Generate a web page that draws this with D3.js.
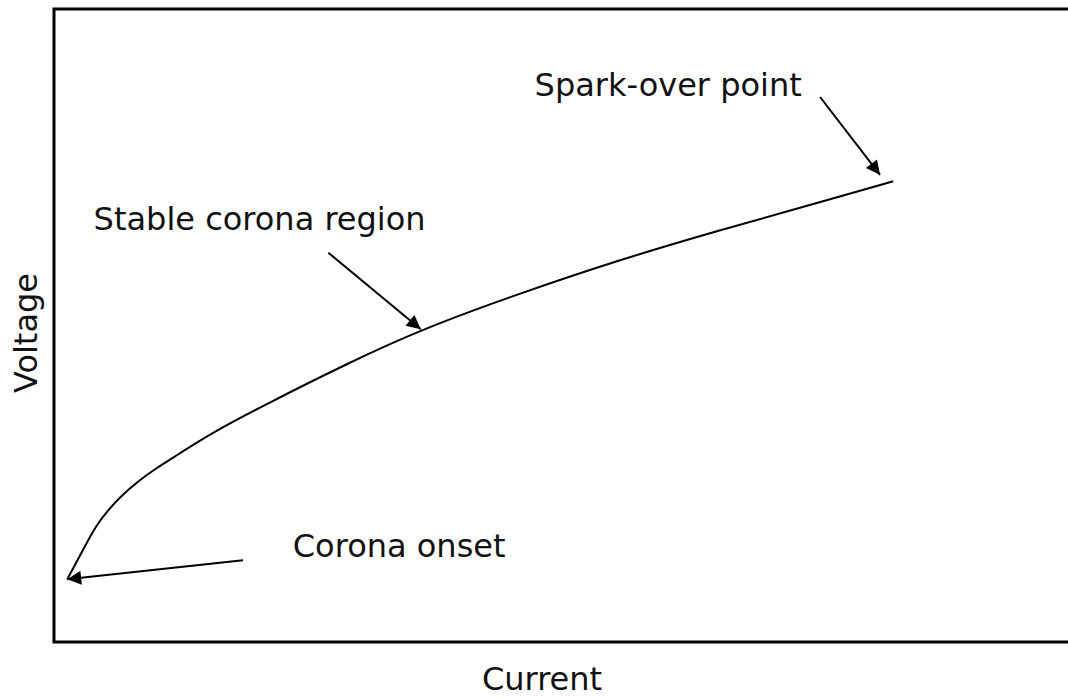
<!DOCTYPE html>
<html>
<head>
<meta charset="utf-8">
<script src="https://cdn.jsdelivr.net/npm/d3@7"></script>
<style>
  html, body { margin: 0; padding: 0; background: #fff; }
  svg { display: block; }
  text { font-family: "DejaVu Sans", Verdana, sans-serif; font-size: 32px; fill: #111; }
</style>
</head>
<body>
<svg id="chart"></svg>
<script>
// datos de la curva (unidades arbitrarias 0-100)
var current = [1.3, 2.2, 3.2, 4.2, 5.4, 6.7, 8.2, 9.9, 12.1, 15.4, 20.3, 29.1, 36.5, 45.9, 55.7, 65.6, 74.4, 82.6];
var voltage = [9.9, 12.6, 15.6, 18.5, 21.0, 23.2, 25.3, 27.3, 29.5, 32.9, 37.1, 44.2, 49.6, 55.1, 60.4, 65.1, 69.0, 72.8];

// anotaciones: texto y flechas (en unidades de datos)
var labels = ["Spark-over point", "Stable corona region", "Corona onset"];
var labelX = [47.3, 3.9, 23.5];
var labelY = [86.2, 65.1, 13.4];
var arrowFromX = [75.4, 27.0, 18.6];
var arrowFromY = [86.1, 61.5, 12.9];
var arrowToX = [81.3, 36.1, 1.3];
var arrowToY = [73.8, 49.4, 9.9];

var width = 1068,
    height = 698;

// escalas
var x = d3.scaleLinear().domain([0, 100]).range([54, 1070]);
var y = d3.scaleLinear().domain([0, 100]).range([642, 9]);

var svg = d3.select("#chart")
  .attr("width", width)
  .attr("height", height);

// punta de flecha
svg.append("defs").append("marker")
  .attr("id", "arrow")
  .attr("viewBox", "0 0 10 10")
  .attr("refX", 10)
  .attr("refY", 5)
  .attr("markerUnits", "userSpaceOnUse")
  .attr("markerWidth", 19)
  .attr("markerHeight", 14)
  .attr("orient", "auto")
  .append("path")
    .attr("d", "M0,0L10,5L0,10Z")
    .attr("fill", "#000");

// marco del grafico (el lado derecho queda fuera)
svg.append("rect")
  .attr("x", x(0))
  .attr("y", y(100))
  .attr("width", x(100) - x(0) + 10)
  .attr("height", y(0) - y(100))
  .attr("fill", "none")
  .attr("stroke", "#000")
  .attr("stroke-width", 3);

// curva
var line = d3.line()
  .x(function(d, i) { return x(current[i]); })
  .y(function(d, i) { return y(voltage[i]); })
  .curve(d3.curveBasis);

svg.append("path")
  .datum(current)
  .attr("d", line)
  .attr("fill", "none")
  .attr("stroke", "#000")
  .attr("stroke-width", 2);

// flechas
svg.selectAll(".arrow")
  .data(labels)
  .enter().append("line")
  .attr("class", "arrow")
  .attr("x1", function(d, i) { return x(arrowFromX[i]); })
  .attr("y1", function(d, i) { return y(arrowFromY[i]); })
  .attr("x2", function(d, i) { return x(arrowToX[i]); })
  .attr("y2", function(d, i) { return y(arrowToY[i]); })
  .attr("stroke", "#000")
  .attr("stroke-width", 2)
  .attr("marker-end", "url(#arrow)");

// textos
svg.selectAll(".label")
  .data(labels)
  .enter().append("text")
  .attr("class", "label")
  .attr("x", function(d, i) { return x(labelX[i]); })
  .attr("y", function(d, i) { return y(labelY[i]); })
  .text(function(d) { return d; });

// titulos de ejes
svg.append("text")
  .attr("x", 542)
  .attr("y", 690)
  .style("text-anchor", "middle")
  .text("Current");

svg.append("text")
  .attr("transform", "translate(37," + 333 + ") rotate(-90)")
  .style("text-anchor", "middle")
  .text("Voltage");
</script>
</body>
</html>
